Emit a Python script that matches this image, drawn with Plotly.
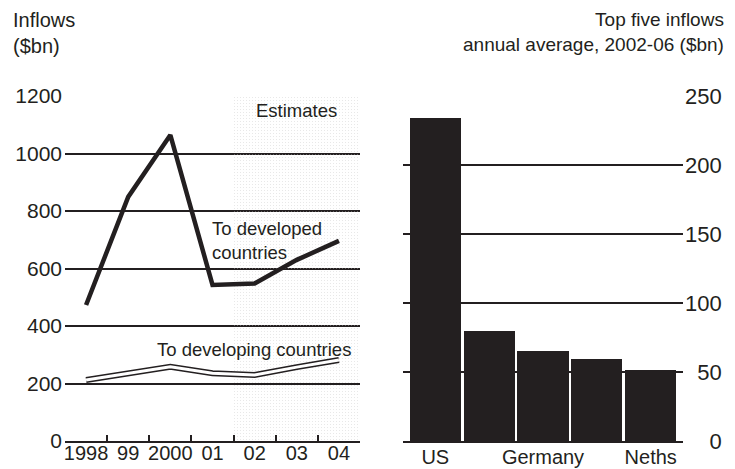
import plotly.graph_objects as go

W, H = 735, 469
FONT = "Liberation Sans, Arial, sans-serif"
INK = "#231f20"

years = ["1998", "99", "2000", "01", "02", "03", "04"]
developed = [473, 849, 1064, 543, 548, 630, 696]
developing = [212, 236, 258, 236, 230, 257, 282]
estimate_years = ["02", "03", "04"]
estimate_top = [1200, 1200, 1200]

countries = ["US", "Britain", "Germany", "France", "Neths"]
inflows = [234, 80, 65.5, 59.5, 51.5]
shown_countries = ["US", "Germany", "Neths"]

left_ticks = [0, 200, 400, 600, 800, 1000, 1200]
right_ticks = [0, 50, 100, 150, 200, 250]
right_ticktext = ["\u2007\u20070", "\u200750", "100", "150", "200", "250"]


def px(x):
    return x / W


def py(y):
    return 1 - y / H


fig = go.Figure()

# Estimates stippled region
fig.add_trace(go.Bar(
    x=estimate_years, y=estimate_top, width=1, xaxis="x", yaxis="y",
    marker=dict(color="rgba(0,0,0,0)", line=dict(width=0),
                pattern=dict(shape=".", fgcolor="#c4c4c4", bgcolor="rgba(0,0,0,0)",
                             size=3, solidity=0.1)),
    showlegend=False, hoverinfo="skip"))

# Developing countries: outlined white line
fig.add_trace(go.Scatter(x=years, y=developing, mode="lines", xaxis="x", yaxis="y",
                         line=dict(color=INK, width=6), showlegend=False))
fig.add_trace(go.Scatter(x=years, y=developing, mode="lines", xaxis="x", yaxis="y",
                         line=dict(color="white", width=3), showlegend=False))

# Developed countries
fig.add_trace(go.Scatter(x=years, y=developed, mode="lines", xaxis="x", yaxis="y",
                         line=dict(color=INK, width=4.5), showlegend=False))

# Right bars
fig.add_trace(go.Bar(x=countries, y=inflows, width=0.95, xaxis="x2", yaxis="y2",
                     marker=dict(color=INK, line=dict(width=0)), showlegend=False))

ydom = [py(441), py(96)]

fig.update_layout(
    width=W, height=H,
    margin=dict(l=0, r=0, t=0, b=0, autoexpand=False),
    paper_bgcolor="white", plot_bgcolor="rgba(0,0,0,0)",
    font=dict(family=FONT, size=20, color=INK),
    bargap=0,
    xaxis=dict(domain=[px(65), px(360)], type="category", categoryorder="array",
               categoryarray=years, range=[-0.5, 6.5], tickangle=0, automargin=False,
               showgrid=False, showline=True, linecolor=INK, linewidth=2,
               ticks="inside", tickson="boundaries", ticklen=6, tickwidth=2,
               tickcolor=INK, tickfont=dict(size=20), ticklabelstandoff=-7,
               fixedrange=True),
    yaxis=dict(domain=ydom, range=[0, 1200], tickvals=left_ticks, automargin=False,
               showgrid=True, gridcolor=INK, gridwidth=2, zeroline=False,
               showline=False, ticks="", ticklabelstandoff=2,
               tickfont=dict(size=21), fixedrange=True),
    xaxis2=dict(domain=[px(403), px(683)], type="category", categoryorder="array",
                categoryarray=countries, range=[-0.6, 4.6], tickangle=0, automargin=False,
                tickvals=shown_countries, ticktext=shown_countries,
                showgrid=False, showline=True, linecolor=INK, linewidth=2,
                ticks="", tickfont=dict(size=20), ticklabelstandoff=-3,
                anchor="y2", fixedrange=True),
    yaxis2=dict(domain=ydom, range=[0, 250], tickvals=right_ticks, automargin=False,
                ticktext=right_ticktext, side="right", anchor="x2",
                showgrid=True, gridcolor=INK, gridwidth=1.6, zeroline=False,
                showline=False, ticks="", ticklabelstandoff=1,
                tickfont=dict(size=22), fixedrange=True),
    annotations=[
        dict(text="Inflows<br>($bn)", x=px(11), y=py(7), xref="paper", yref="paper",
             xanchor="left", yanchor="top", align="left", showarrow=False,
             font=dict(size=20)),
        dict(text="Top five inflows<br>annual average, 2002-06 ($bn)", x=px(726), y=py(7),
             xref="paper", yref="paper", xanchor="right", yanchor="top", align="right",
             showarrow=False, font=dict(size=19)),
        dict(text="Estimates", x=px(296), y=py(110), xref="paper", yref="paper",
             xanchor="center", yanchor="middle", showarrow=False, font=dict(size=18.5)),
        dict(text="To developed<br>countries", x=px(210), y=py(240), xref="paper",
             yref="paper", xanchor="left", yanchor="middle", align="left",
             showarrow=False, font=dict(size=18.5)),
        dict(text="To developing countries", x=px(155), y=py(349), xref="paper",
             yref="paper", xanchor="left", yanchor="middle", showarrow=False,
             font=dict(size=18.5)),
    ],
)

fig.write_html("out.html")
